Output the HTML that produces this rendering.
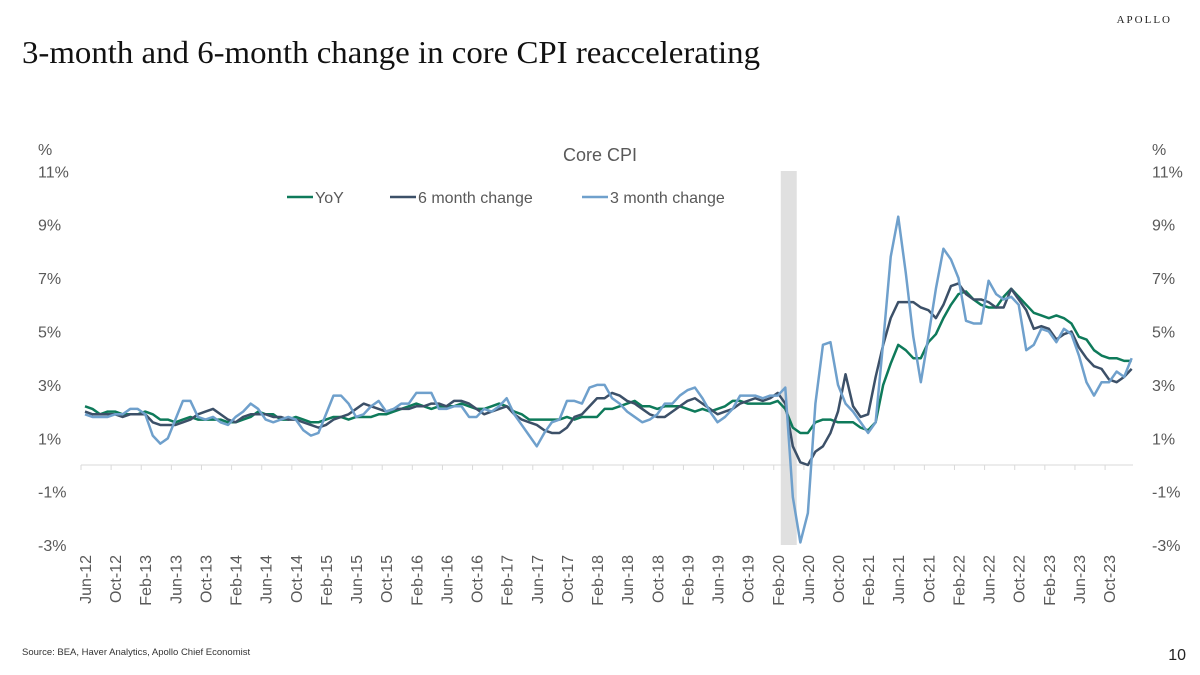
<!DOCTYPE html>
<html><head><meta charset="utf-8"><style>
body{margin:0;width:1200px;height:675px;background:#fff;overflow:hidden;font-family:"Liberation Sans",sans-serif}
svg{position:absolute;left:0;top:0}
</style></head><body>
<svg width="1200" height="675">
<text x="1172" y="23" font-family="Liberation Serif,serif" font-size="11" letter-spacing="2" text-anchor="end" fill="#222">APOLLO</text>
<text x="22" y="63" font-family="Liberation Serif,serif" font-size="32" textLength="738" lengthAdjust="spacingAndGlyphs" fill="#111">3-month and 6-month change in core CPI reaccelerating</text>
<text x="600" y="161" font-size="18" text-anchor="middle" fill="#595959">Core CPI</text>
<text x="38" y="155" font-size="16" fill="#595959">%</text>
<text x="1152" y="155" font-size="16" fill="#595959">%</text>
<g id="bands"></g><g id="axes"></g><g id="lines"></g>
<g>
<line x1="287" y1="197" x2="313" y2="197" stroke="#0e7a5a" stroke-width="2.5"/>
<text x="315" y="203" font-size="16" fill="#595959">YoY</text>
<line x1="390" y1="197" x2="416" y2="197" stroke="#3c5068" stroke-width="2.5"/>
<text x="418" y="203" font-size="16" fill="#595959">6 month change</text>
<line x1="582" y1="197" x2="608" y2="197" stroke="#6fa0cc" stroke-width="2.5"/>
<text x="610" y="203" font-size="16" fill="#595959">3 month change</text>
</g>
<text x="22" y="655" font-size="9.5" fill="#333">Source: BEA, Haver Analytics, Apollo Chief Economist</text>
<text x="1186" y="660" font-size="16" text-anchor="end" fill="#222">10</text>
</svg>
<script>
const yoy=[2.2,2.1,1.9,2.0,2.0,1.9,1.9,
1.9,2.0,1.9,1.7,1.7,1.6,1.7,1.8,1.7,1.7,1.7,1.7,
1.6,1.6,1.7,1.8,2.0,1.9,1.9,1.7,1.7,1.8,1.7,1.6,
1.6,1.7,1.8,1.8,1.7,1.8,1.8,1.8,1.9,1.9,2.0,2.1,
2.2,2.3,2.2,2.1,2.2,2.2,2.2,2.3,2.2,2.1,2.1,2.2,
2.3,2.2,2.0,1.9,1.7,1.7,1.7,1.7,1.7,1.8,1.7,1.8,
1.8,1.8,2.1,2.1,2.2,2.3,2.4,2.2,2.2,2.1,2.2,2.2,
2.2,2.1,2.0,2.1,2.0,2.1,2.2,2.4,2.4,2.3,2.3,2.3,
2.3,2.4,2.1,1.4,1.2,1.2,1.6,1.7,1.7,1.6,1.6,1.6,
1.4,1.3,1.6,3.0,3.8,4.5,4.3,4.0,4.0,4.6,4.9,5.5,
6.0,6.4,6.5,6.2,6.0,5.9,5.9,6.3,6.6,6.3,6.0,5.7,
5.6,5.5,5.6,5.5,5.3,4.8,4.7,4.3,4.1,4.0,4.0,3.9,3.9];
const m6=[2.0,1.9,1.9,1.9,1.9,1.8,1.9,
1.9,1.9,1.6,1.5,1.5,1.5,1.6,1.7,1.9,2.0,2.1,1.9,
1.7,1.6,1.8,1.9,1.9,1.9,1.8,1.8,1.7,1.7,1.6,1.5,
1.4,1.5,1.7,1.8,1.9,2.1,2.3,2.2,2.1,2.0,2.1,2.1,
2.1,2.2,2.2,2.3,2.3,2.2,2.4,2.4,2.3,2.1,1.9,2.0,
2.1,2.2,1.9,1.7,1.6,1.5,1.3,1.2,1.2,1.4,1.8,1.9,
2.2,2.5,2.5,2.7,2.6,2.4,2.3,2.1,1.9,1.8,1.8,2.0,
2.2,2.4,2.5,2.3,2.1,1.9,2.0,2.1,2.3,2.4,2.5,2.4,
2.5,2.7,2.3,0.7,0.1,0.0,0.5,0.7,1.2,2.0,3.4,2.2,
1.8,1.9,3.3,4.5,5.5,6.1,6.1,6.1,5.9,5.8,5.5,6.0,
6.7,6.8,6.4,6.2,6.2,6.1,5.9,5.9,6.6,6.2,5.8,5.1,
5.2,5.1,4.7,4.9,5.0,4.4,4.0,3.7,3.6,3.2,3.1,3.3,3.6];
const m3=[1.9,1.8,1.8,1.8,1.9,1.9,2.1,
2.1,1.9,1.1,0.8,1.0,1.7,2.4,2.4,1.8,1.7,1.8,1.6,
1.5,1.8,2.0,2.3,2.1,1.7,1.6,1.7,1.8,1.7,1.3,1.1,
1.2,1.9,2.6,2.6,2.3,1.8,1.9,2.2,2.4,2.0,2.1,2.3,
2.3,2.7,2.7,2.7,2.1,2.1,2.2,2.2,1.8,1.8,2.1,2.0,
2.2,2.5,1.9,1.5,1.1,0.7,1.2,1.6,1.7,2.4,2.4,2.3,
2.9,3.0,3.0,2.5,2.3,2.0,1.8,1.6,1.7,1.9,2.3,2.3,
2.6,2.8,2.9,2.5,2.0,1.6,1.8,2.1,2.6,2.6,2.6,2.5,
2.6,2.6,2.9,-1.2,-2.9,-1.8,2.3,4.5,4.6,3.0,2.3,2.0,
1.6,1.2,1.6,4.6,7.8,9.3,7.2,4.8,3.1,4.8,6.6,8.1,
7.7,7.0,5.4,5.3,5.3,6.9,6.4,6.2,6.3,6.0,4.3,4.5,
5.1,5.0,4.6,5.1,4.9,4.1,3.1,2.6,3.1,3.1,3.5,3.3,4.0];
const yTicks=[11,9,7,5,3,1,-1,-3];
const mon=['Jan','Feb','Mar','Apr','May','Jun','Jul','Aug','Sep','Oct','Nov','Dec'];
const NS='http://www.w3.org/2000/svg';
const X=i=>85+i*7.53, Y=v=>465-v*26.7;
function mk(t,a,p){const e=document.createElementNS(NS,t);for(const k in a)e.setAttribute(k,a[k]);document.getElementById(p).appendChild(e);return e;}
const band=mk('rect',{x:X(92)+3,y:171,width:16,height:374,fill:'#e0e0e0'},'bands');


const ax=mk('line',{x1:81,y1:465,x2:1133,y2:465,stroke:'#d9d9d9','stroke-width':1},'axes');


yTicks.forEach(v=>{
 const l=mk('text',{x:38,y:Y(v)+6,'font-size':16,fill:'#595959'},'axes');l.textContent=v+'%';
 
 
 const r=mk('text',{x:1152,y:Y(v)+6,'font-size':16,fill:'#595959'},'axes');r.textContent=v+'%';
 
 
});
for(let i=0;i<yoy.length;i+=4){
 const tx=X(i)-4;
 const t=mk('line',{x1:tx,y1:465,x2:tx,y2:470,stroke:'#d9d9d9'},'axes');
 
 
 const mi=(5+i)%12, yr=12+Math.floor((5+i)/12);
 const lb=mk('text',{x:0,y:0,'font-size':16,fill:'#595959','text-anchor':'end',transform:`translate(${X(i)+6},555) rotate(-90)`},'axes');
 lb.textContent=mon[mi]+'-'+yr;
 
 
}
function line(d,c,n){
 const p=mk('polyline',{points:d.map((v,i)=>X(i)+','+Y(v)).join(' '),fill:'none',stroke:c,'stroke-width':2.5,'stroke-linejoin':'round'},'lines');
 
 
}
line(yoy,'#0e7a5a','series-yoy');
line(m6,'#3c5068','series-6-month');
line(m3,'#6fa0cc','series-3-month');
</script>
</body></html>
